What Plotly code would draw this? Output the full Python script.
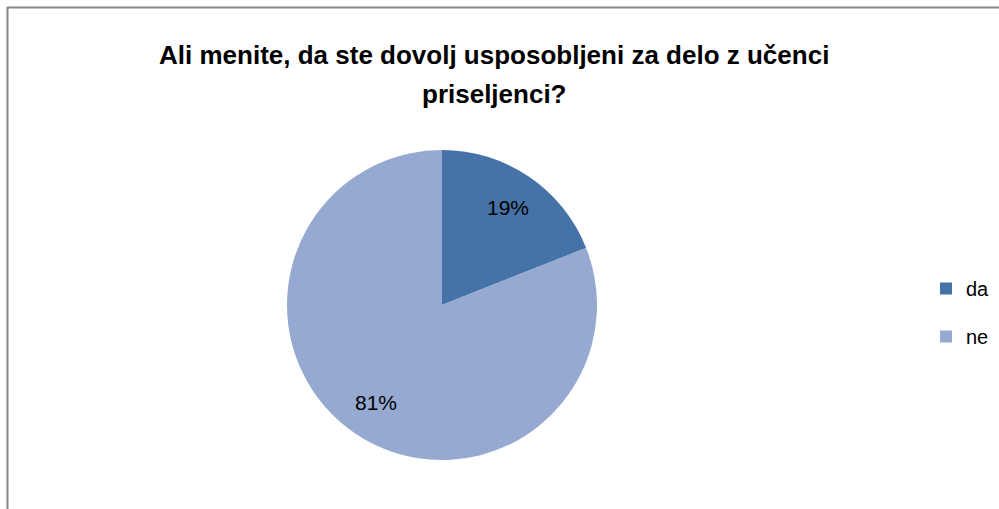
import math
import plotly.graph_objects as go

labels = ["da", "ne"]
values = [19, 81]
colors = ["#4572A7", "#95A9D1"]
title_lines = ["Ali menite, da ste dovolj usposobljeni za delo z učenci", "priseljenci?"]

W, H = 999, 509
font_family = "Liberation Sans, Arial, sans-serif"

# pie geometry (pixels)
cx, cy, R = 442, 305, 155

fig = go.Figure()
fig.add_trace(go.Pie(
    labels=labels,
    values=values,
    marker=dict(colors=colors, line=dict(width=0)),
    sort=False,
    direction="clockwise",
    rotation=0,
    textinfo="none",
    domain=dict(x=[(cx - R) / W, (cx + R) / W], y=[(H - cy - R) / H, (H - cy + R) / H]),
    hoverinfo="label+percent",
    showlegend=False,
))

# legend entries via invisible dummy traces so the spacing can match
for i, (lab, col) in enumerate(zip(labels, colors)):
    fig.add_trace(go.Scatter(
        x=[None], y=[None], mode="markers", name=lab,
        marker=dict(symbol="square", size=12, color=col),
        legendgroup=f"g{i}", showlegend=True, hoverinfo="skip",
    ))

# percentage labels, placed along each slice's mid-angle
total = sum(values)
annotations = []
cum = 0
for v in values:
    mid = (cum + v / 2) / total * 2 * math.pi
    cum += v
    r = 0.76 * R
    px = cx + r * math.sin(mid)
    py = cy - r * math.cos(mid)
    annotations.append(dict(
        text=f"{round(v / total * 100)}%", x=px / W, y=(H - py) / H,
        xref="paper", yref="paper", xanchor="center", yanchor="middle", showarrow=False,
        font=dict(family=font_family, size=21, color="#000000"),
    ))

annotations += [
    dict(text="<b>%s</b>" % title_lines[0], x=494 / W, y=(H - 55) / H, xref="paper", yref="paper",
         xanchor="center", yanchor="middle", showarrow=False,
         font=dict(family=font_family, size=26, color="#000000")),
    dict(text="<b>%s</b>" % title_lines[1], x=494 / W, y=(H - 94) / H, xref="paper", yref="paper",
         xanchor="center", yanchor="middle", showarrow=False,
         font=dict(family=font_family, size=26, color="#000000")),
]

fig.update_layout(
    width=W, height=H,
    margin=dict(l=0, r=0, t=0, b=0, autoexpand=False),
    paper_bgcolor="white",
    plot_bgcolor="white",
    xaxis=dict(visible=False),
    yaxis=dict(visible=False),
    showlegend=True,
    legend=dict(
        x=926 / W, y=(H - 269) / H, xanchor="left", yanchor="top",
        font=dict(family=font_family, size=20, color="#000000"),
        bgcolor="rgba(0,0,0,0)",
        itemwidth=30,
        tracegroupgap=19,
    ),
    annotations=annotations,
    shapes=[
        dict(type="rect", xref="paper", yref="paper",
             x0=7.5 / W, y0=-0.05, x1=1.05, y1=(H - 7.5) / H,
             line=dict(color="#888888", width=2), fillcolor="rgba(0,0,0,0)", layer="above"),
    ],
)

fig.write_html("out.html")
